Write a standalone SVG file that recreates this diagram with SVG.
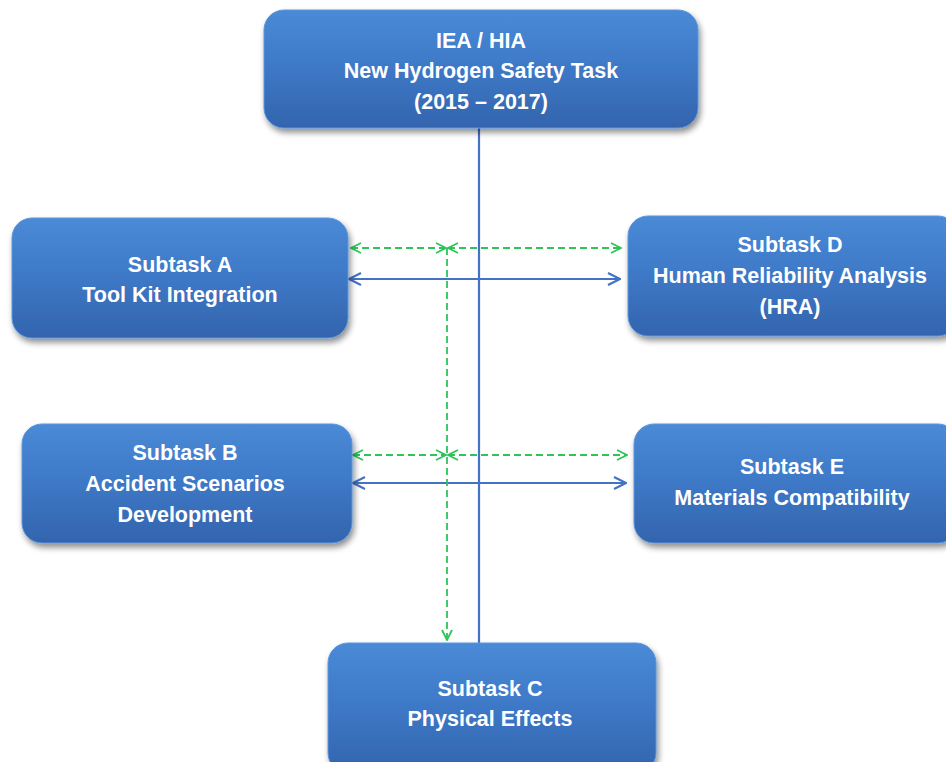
<svg xmlns="http://www.w3.org/2000/svg" width="946" height="762" viewBox="0 0 946 762">
<defs>
<linearGradient id="bg" x1="0" y1="0" x2="0" y2="1">
<stop offset="0" stop-color="#4a8ad6"/>
<stop offset="0.5" stop-color="#3d78c6"/>
<stop offset="1" stop-color="#3364ad"/>
</linearGradient>
<filter id="sh" x="-10%" y="-10%" width="125%" height="135%">
<feGaussianBlur in="SourceAlpha" stdDeviation="3"/>
<feOffset dx="2" dy="4" result="b"/>
<feComponentTransfer><feFuncA type="linear" slope="0.45"/></feComponentTransfer>
<feMerge><feMergeNode/><feMergeNode in="SourceGraphic"/></feMerge>
</filter>
<marker id="ba" viewBox="0 0 14 14" refX="13" refY="7" markerWidth="14" markerHeight="14" markerUnits="userSpaceOnUse" orient="auto-start-reverse">
<path d="M1,1 L13,7 L1,13" fill="none" stroke="#4472c4" stroke-width="2.2"/>
</marker>
<marker id="ga" viewBox="0 0 12 12" refX="11" refY="6" markerWidth="12" markerHeight="12" markerUnits="userSpaceOnUse" orient="auto-start-reverse">
<path d="M1,1 L11,6 L1,11" fill="none" stroke="#2ec45a" stroke-width="1.8"/>
</marker>
</defs>
<style>
.box{fill:url(#bg);stroke:#5a96dc;stroke-width:1;filter:url(#sh)}
.t{font-family:"Liberation Sans",Arial,sans-serif;font-weight:bold;font-size:21.5px;fill:#ffffff;text-anchor:middle}
.bl{stroke:#4472c4;stroke-width:2.2;fill:none}
.gd{stroke:#2ec45a;stroke-width:1.8;stroke-dasharray:7,4;fill:none}
</style>
<rect width="946" height="762" fill="#ffffff"/>
<g id="connectors">
<line class="bl" x1="479" y1="128" x2="479" y2="643"/>
<line class="bl" x1="349" y1="279" x2="620" y2="279" marker-start="url(#ba)" marker-end="url(#ba)"/>
<line class="bl" x1="353" y1="483" x2="626" y2="483" marker-start="url(#ba)" marker-end="url(#ba)"/>
<line class="gd" x1="351" y1="248" x2="446" y2="248" marker-start="url(#ga)" marker-end="url(#ga)"/>
<line class="gd" x1="448" y1="248" x2="621" y2="248" marker-start="url(#ga)" marker-end="url(#ga)"/>
<line class="gd" x1="353" y1="455" x2="446" y2="455" marker-start="url(#ga)" marker-end="url(#ga)"/>
<line class="gd" x1="448" y1="455" x2="627" y2="455" marker-start="url(#ga)" marker-end="url(#ga)"/>
<line class="gd" x1="447" y1="248" x2="447" y2="640" marker-end="url(#ga)"/>
</g>
<g id="top">
<rect class="box" x="264" y="10" width="434" height="118" rx="20"/>
<text class="t" x="481" y="48">IEA / HIA</text>
<text class="t" x="481" y="78">New Hydrogen Safety Task</text>
<text class="t" x="481" y="109">(2015 – 2017)</text>
</g>
<g id="subtaskA">
<rect class="box" x="12" y="218" width="336" height="120" rx="20"/>
<text class="t" x="180" y="272">Subtask A</text>
<text class="t" x="180" y="302">Tool Kit Integration</text>
</g>
<g id="subtaskD">
<rect class="box" x="628" y="216" width="330" height="120" rx="20"/>
<text class="t" x="790" y="252">Subtask D</text>
<text class="t" x="790" y="283">Human Reliability  Analysis</text>
<text class="t" x="790" y="314">(HRA)</text>
</g>
<g id="subtaskB">
<rect class="box" x="22" y="424" width="330" height="119" rx="20"/>
<text class="t" x="185" y="460">Subtask B</text>
<text class="t" x="185" y="491">Accident Scenarios</text>
<text class="t" x="185" y="522">Development</text>
</g>
<g id="subtaskE">
<rect class="box" x="634" y="424" width="324" height="119" rx="20"/>
<text class="t" x="792" y="474">Subtask E</text>
<text class="t" x="792" y="505">Materials Compatibility</text>
</g>
<g id="subtaskC">
<rect class="box" x="328" y="643" width="328" height="130" rx="20"/>
<text class="t" x="490" y="696">Subtask C</text>
<text class="t" x="490" y="726">Physical Effects</text>
</g>
</svg>
